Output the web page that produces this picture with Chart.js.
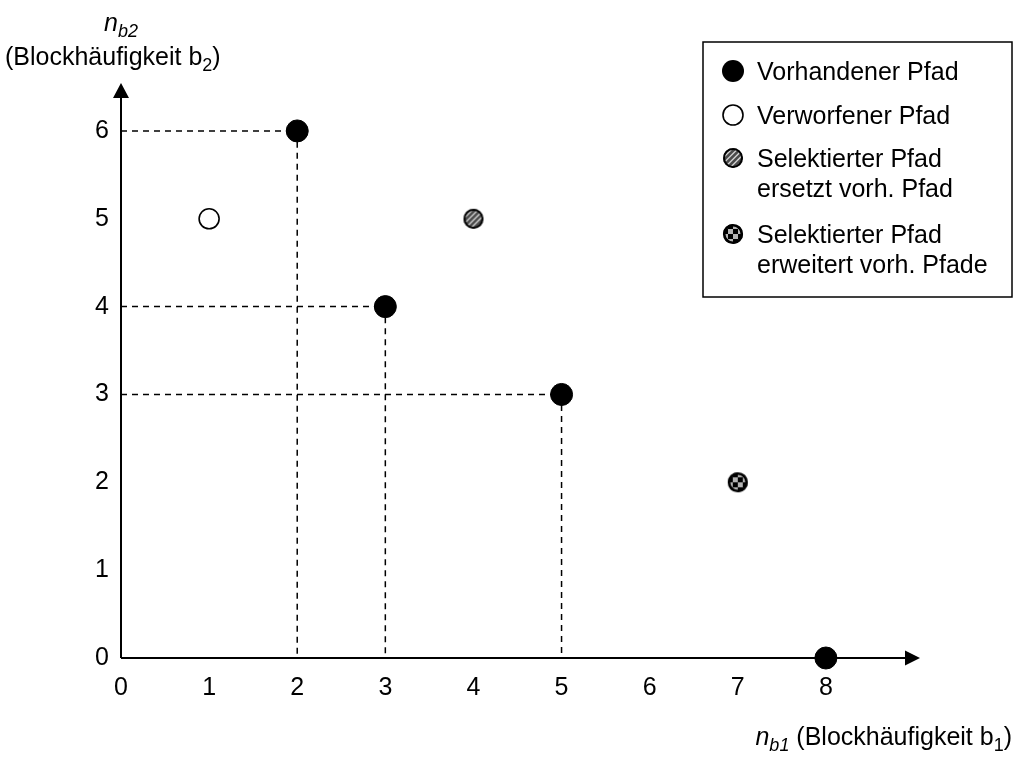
<!DOCTYPE html>
<html>
<head>
<meta charset="utf-8">
<script src="https://cdn.jsdelivr.net/npm/chart.js@4/dist/chart.umd.min.js"></script>
<style>
  body { margin: 0; background: #fff; }
</style>
</head>
<body>
<canvas id="grafico" width="1015" height="757"></canvas>
<script>
// Pfade im Raum der Blockhäufigkeiten
const vorhandenX = [2, 3, 5, 8];
const vorhandenY = [6, 4, 3, 0];
const verworfenX = [1];
const verworfenY = [5];
const ersetztX = [4];
const ersetztY = [5];
const erweitertX = [7];
const erweitertY = [2];

const xTicks = [0, 1, 2, 3, 4, 5, 6, 7, 8];
const yTicks = [0, 1, 2, 3, 4, 5, 6];

const legendeTexte = [
    ['Vorhandener Pfad'],
    ['Verworfener Pfad'],
    ['Selektierter Pfad', 'ersetzt vorh. Pfad'],
    ['Selektierter Pfad', 'erweitert vorh. Pfade']
];

const schrift = '"Liberation Sans", Arial, sans-serif';

function punkte(xs, ys) {
    return xs.map((x, i) => ({ x: x, y: ys[i] }));
}

// schraffierter Kreis
function kreisSchraffiert(r) {
    const s = 2 * r + 4;
    const c = document.createElement('canvas');
    c.width = s; c.height = s;
    const g = c.getContext('2d');
    g.save();
    g.beginPath();
    g.arc(s / 2, s / 2, r, 0, 2 * Math.PI);
    g.clip();
    g.fillStyle = '#d4d4d4';
    g.fillRect(0, 0, s, s);
    g.strokeStyle = '#4a4a4a';
    g.lineWidth = 2.6;
    for (let k = -s; k < 2 * s; k += 5.6) {
        g.beginPath();
        g.moveTo(k, s);
        g.lineTo(k + s, 0);
        g.stroke();
    }
    g.restore();
    g.beginPath();
    g.arc(s / 2, s / 2, r - 1, 0, 2 * Math.PI);
    g.lineWidth = 2;
    g.strokeStyle = '#000';
    g.stroke();
    return c;
}

// karierter Kreis
function kreisKariert(r) {
    const s = 2 * r + 4;
    const c = document.createElement('canvas');
    c.width = s; c.height = s;
    const g = c.getContext('2d');
    const m = s / 2;
    const z = r / 2;
    g.save();
    g.beginPath();
    g.arc(m, m, r, 0, 2 * Math.PI);
    g.clip();
    for (let i = 0; i < 4; i++) {
        for (let j = 0; j < 4; j++) {
            g.fillStyle = (i + j) % 2 === 0 ? '#b4b4b4' : '#000';
            g.fillRect(m - 2 * z + i * z, m - 2 * z + j * z, z, z);
        }
    }
    g.restore();
    g.beginPath();
    g.arc(m, m, r - 1.2, 0, 2 * Math.PI);
    g.lineWidth = 2.6;
    g.strokeStyle = '#000';
    g.stroke();
    return c;
}

const bildErsetzt = kreisSchraffiert(10);
const bildErweitert = kreisKariert(10);

// gestrichelte Hilfslinien zu den vorhandenen Pfaden
const hilfslinien = [];
for (let i = 0; i < vorhandenX.length; i++) {
    if (vorhandenX[i] > 0 && vorhandenY[i] > 0) {
        hilfslinien.push({
            type: 'line',
            data: [
                { x: 0, y: vorhandenY[i] },
                { x: vorhandenX[i], y: vorhandenY[i] },
                { x: vorhandenX[i], y: 0 }
            ],
            borderColor: '#000',
            borderWidth: 1.5,
            borderDash: [6, 5],
            pointRadius: 0,
            fill: false,
            tension: 0
        });
    }
}

function textMitIndex(ctx, teile, x, y) {
    // teile: [text, kursiv, tiefgestellt]
    let px = x;
    for (const t of teile) {
        const groesse = t[2] ? 18 : 25;
        ctx.font = (t[1] ? 'italic ' : '') + groesse + 'px ' + schrift;
        ctx.fillText(t[0], px, y + (t[2] ? 6 : 0));
        px += ctx.measureText(t[0]).width;
    }
    return px - x;
}

function breiteMitIndex(ctx, teile) {
    let w = 0;
    for (const t of teile) {
        const groesse = t[2] ? 18 : 25;
        ctx.font = (t[1] ? 'italic ' : '') + groesse + 'px ' + schrift;
        w += ctx.measureText(t[0]).width;
    }
    return w;
}

const achsenPlugin = {
    id: 'achsen',
    beforeDatasetsDraw(chart) {
        const ctx = chart.ctx;
        const xs = chart.scales.x;
        const ys = chart.scales.y;
        const x0 = xs.getPixelForValue(0);
        const y0 = ys.getPixelForValue(0);
        const rechts = chart.chartArea.right + 6;
        const oben = chart.chartArea.top - 4;
        ctx.save();
        ctx.strokeStyle = '#000';
        ctx.fillStyle = '#000';
        ctx.lineWidth = 2;
        ctx.beginPath();
        ctx.moveTo(x0, y0);
        ctx.lineTo(rechts - 14, y0);
        ctx.moveTo(x0, y0);
        ctx.lineTo(x0, oben + 14);
        ctx.stroke();
        // Pfeilspitzen
        ctx.beginPath();
        ctx.moveTo(rechts, y0);
        ctx.lineTo(rechts - 15, y0 - 7.5);
        ctx.lineTo(rechts - 15, y0 + 7.5);
        ctx.closePath();
        ctx.fill();
        ctx.beginPath();
        ctx.moveTo(x0, oben);
        ctx.lineTo(x0 - 8, oben + 15);
        ctx.lineTo(x0 + 8, oben + 15);
        ctx.closePath();
        ctx.fill();
        ctx.restore();
    },
    afterDraw(chart) {
        const ctx = chart.ctx;
        const x0 = chart.scales.x.getPixelForValue(0);
        ctx.save();
        ctx.fillStyle = '#000';
        ctx.textBaseline = 'alphabetic';

        // Achsentitel y
        const tY1 = [['n', true, false], ['b2', true, true]];
        textMitIndex(ctx, tY1, x0 - breiteMitIndex(ctx, tY1) / 2, 31);
        const tY2 = [['(Blockhäufigkeit b', false, false], ['2', false, true], [')', false, false]];
        textMitIndex(ctx, tY2, 5, 65);

        // Achsentitel x
        const tX = [['n', true, false], ['b1', true, true], [' (Blockhäufigkeit b', false, false], ['1', false, true], [')', false, false]];
        textMitIndex(ctx, tX, 1012 - breiteMitIndex(ctx, tX), 745);

        // Legende
        const lx = 703, ly = 42, lw = 309, lh = 255;
        ctx.lineWidth = 1.5;
        ctx.strokeStyle = '#000';
        ctx.strokeRect(lx, ly, lw, lh);
        const zeilenY = [71, 115, 158, 234];
        const mx = 733;
        ctx.font = '25px ' + schrift;
        ctx.textBaseline = 'middle';
        for (let i = 0; i < legendeTexte.length; i++) {
            const y = zeilenY[i];
            if (i === 0) {
                ctx.beginPath();
                ctx.arc(mx, y, 11, 0, 2 * Math.PI);
                ctx.fill();
            } else if (i === 1) {
                ctx.beginPath();
                ctx.arc(mx, y, 10, 0, 2 * Math.PI);
                ctx.fillStyle = '#fff';
                ctx.fill();
                ctx.fillStyle = '#000';
                ctx.lineWidth = 1.6;
                ctx.stroke();
            } else {
                const b = i === 2 ? bildErsetzt : bildErweitert;
                ctx.drawImage(b, mx - b.width / 2, y - b.height / 2);
            }
            legendeTexte[i].forEach((t, k) => {
                ctx.fillText(t, 757, y + 2 + k * 30);
            });
        }
        ctx.restore();
    }
};

new Chart(document.getElementById('grafico'), {
    type: 'scatter',
    data: {
        datasets: hilfslinien.concat([
            {
                label: legendeTexte[0].join(' '),
                data: punkte(vorhandenX, vorhandenY),
                pointStyle: 'circle',
                pointRadius: 11,
                pointBackgroundColor: '#000',
                pointBorderColor: '#000',
                pointBorderWidth: 1
            },
            {
                label: legendeTexte[1].join(' '),
                data: punkte(verworfenX, verworfenY),
                pointStyle: 'circle',
                pointRadius: 10,
                pointBackgroundColor: '#fff',
                pointBorderColor: '#000',
                pointBorderWidth: 1.6
            },
            {
                label: legendeTexte[2].join(' '),
                data: punkte(ersetztX, ersetztY),
                pointStyle: bildErsetzt
            },
            {
                label: legendeTexte[3].join(' '),
                data: punkte(erweitertX, erweitertY),
                pointStyle: bildErweitert
            }
        ])
    },
    options: {
        responsive: false,
        animation: false,
        clip: false,
        layout: {
            padding: { top: 87, right: 101, left: 0, bottom: 0 }
        },
        plugins: {
            legend: { display: false },
            tooltip: { enabled: false }
        },
        scales: {
            x: {
                type: 'linear',
                min: 0,
                max: 9,
                grid: { display: false, drawTicks: false },
                border: { display: false },
                ticks: {
                    color: '#000',
                    font: { family: schrift, size: 25 },
                    padding: 15,
                    maxRotation: 0,
                    autoSkip: false
                },
                afterBuildTicks: (s) => { s.ticks = xTicks.map(v => ({ value: v })); },
                afterFit: (s) => { s.height = 99; }
            },
            y: {
                type: 'linear',
                min: 0,
                max: 6.5,
                grid: { display: false, drawTicks: false },
                border: { display: false },
                ticks: {
                    color: '#000',
                    font: { family: schrift, size: 25 },
                    padding: 12,
                    autoSkip: false
                },
                afterBuildTicks: (s) => { s.ticks = yTicks.map(v => ({ value: v })); },
                afterFit: (s) => { s.width = 121; }
            }
        }
    },
    plugins: [achsenPlugin]
});
</script>
</body>
</html>
